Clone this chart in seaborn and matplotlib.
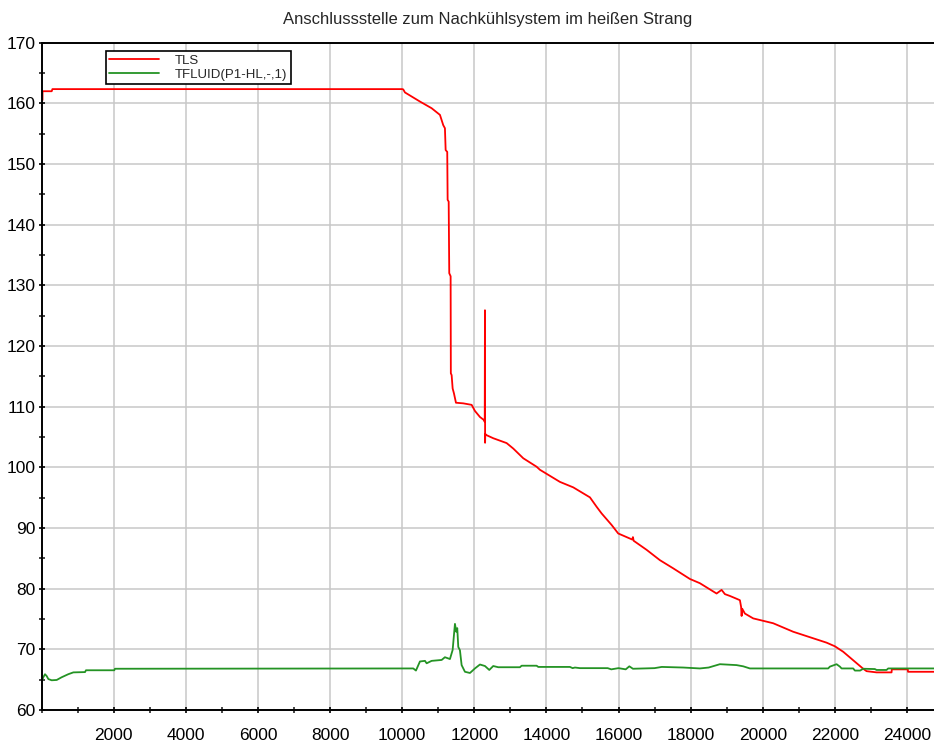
import matplotlib
matplotlib.use("Agg")
import matplotlib.pyplot as plt
from matplotlib.ticker import MultipleLocator
import seaborn as sns
import pandas as pd

title = "Anschlussstelle zum Nachkühlsystem im heißen Strang"
label_tls = "TLS"
label_tfluid = "TFLUID(P1-HL,-,1)"

red_x = [0, 25, 26, 280, 300, 10000, 10030, 10077, 10493, 10817,
         11048, 11140, 11186, 11206, 11250, 11261, 11290, 11306, 11344, 11350,
         11372, 11400, 11436, 11492, 11694, 11927, 12018, 12157, 12268, 12290,
         12296, 12300, 12305, 12342, 12526, 12897, 13081, 13358, 13729, 13820,
         14376, 14745, 15208, 15393, 15532, 15809, 15992, 16380, 16400, 16420,
         16780, 17148, 17518, 17980, 18257, 18720, 18859, 18951, 19090, 19250,
         19367, 19400, 19414, 19430, 19505, 19736, 20013, 20290, 20845, 21308,
         21771, 22002, 22232, 22509, 22786, 22880, 23157, 23573, 23580, 24023,
         24030, 24750]
red_y = [160.55, 160.55, 162.0, 162.0, 162.35, 162.35, 162.3, 161.8, 160.3, 159.2,
         158.1, 156.4, 155.9, 152.3, 152.0, 144.1, 143.8, 132.0, 131.5, 115.5,
         115.2, 113.0, 112.2, 110.65, 110.55, 110.3, 109.3, 108.3, 107.8, 107.5,
         125.9, 104.05, 105.5, 105.3, 104.8, 104.0, 103.1, 101.5, 100.1, 99.6,
         97.6, 96.7, 95.05, 93.5, 92.4, 90.5, 89.1, 88.1, 88.5, 87.9,
         86.4, 84.7, 83.35, 81.6, 80.9, 79.2, 79.8, 79.1, 78.8, 78.4,
         78.1, 77.0, 75.5, 76.7, 75.9, 75.1, 74.7, 74.3, 72.9, 72.0,
         71.1, 70.5, 69.6, 68.2, 66.8, 66.4, 66.2, 66.2, 66.7, 66.7,
         66.3, 66.3]

green_x = [0, 47, 94, 141, 187, 280, 419, 557, 740, 880,
           1204, 1231, 2016, 2035, 10308, 10382, 10493, 10632, 10679, 10817,
           11095, 11186, 11325, 11400, 11436, 11464, 11500, 11528, 11556, 11602,
           11649, 11741, 11880, 12018, 12157, 12296, 12416, 12526, 12665, 13266,
           13313, 13729, 13775, 14653, 14728, 14792, 14930, 15700, 15800, 16000,
           16200, 16300, 16400, 17000, 17200, 17800, 18257, 18500, 18812, 19275,
           19459, 19644, 21815, 21863, 22048, 22140, 22187, 22509, 22556, 22700,
           22786, 23110, 23157, 23434, 23480, 24750]
green_y = [64.65, 65.4, 65.9, 65.6, 65.1, 64.9, 64.95, 65.4, 65.9, 66.2,
           66.25, 66.55, 66.55, 66.8, 66.85, 66.5, 68.0, 68.1, 67.7, 68.1,
           68.25, 68.7, 68.4, 69.9, 72.35, 74.2, 72.9, 73.5, 70.4, 69.85,
           67.4, 66.3, 66.1, 66.85, 67.5, 67.25, 66.6, 67.25, 67.05, 67.05,
           67.3, 67.3, 67.1, 67.1, 66.9, 67.0, 66.9, 66.9, 66.7, 66.9,
           66.7, 67.2, 66.8, 66.9, 67.1, 67.0, 66.85, 67.0, 67.55, 67.4,
           67.2, 66.85, 66.85, 67.15, 67.55, 67.15, 66.85, 66.85, 66.5, 66.5,
           66.8, 66.75, 66.6, 66.6, 66.85, 66.85]

x_ticks = list(range(2000, 24001, 2000))
y_ticks = list(range(60, 171, 10))

sns.set_theme(style="white")
plt.rcParams['font.family'] = ['Liberation Sans', 'DejaVu Sans']

fig = plt.figure(figsize=(9.34, 7.45), dpi=100)
ax = fig.add_axes([41.6 / 934, 1 - 710 / 745, 1 - 41.6 / 934, (710 - 42.7) / 745])

df_red = pd.DataFrame({"t": red_x, "v": red_y})
df_green = pd.DataFrame({"t": green_x, "v": green_y})
sns.lineplot(data=df_red, x="t", y="v", ax=ax, color="#ff0000", linewidth=1.3,
             label=label_tls, errorbar=None, sort=False)
sns.lineplot(data=df_green, x="t", y="v", ax=ax, color="#249324", linewidth=1.3,
             label=label_tfluid, errorbar=None, sort=False)

ax.set_xlim(0, 24750)
ax.set_ylim(60, 170)
ax.set_xticks(x_ticks)
ax.set_yticks(y_ticks)
ax.xaxis.set_minor_locator(MultipleLocator(1000))
ax.yaxis.set_minor_locator(MultipleLocator(5))
ax.set_xlabel("")
ax.set_ylabel("")

ax.grid(True, which="major", color="#c8c8c8", linewidth=1.1)
ax.set_axisbelow(True)

for side in ["left", "bottom", "top"]:
    ax.spines[side].set_visible(True)
    ax.spines[side].set_color("black")
    ax.spines[side].set_linewidth(1.4)
ax.spines["right"].set_visible(False)

ax.tick_params(axis="y", which="major", direction="inout", length=4.5, width=1.2,
               labelsize=12.5, pad=2, left=True, colors="black")
ax.tick_params(axis="y", which="minor", direction="inout", length=4.5, width=1.2, left=True)
ax.tick_params(axis="x", which="major", direction="inout", length=4.5, width=1.2,
               labelsize=12.5, pad=11, bottom=True, colors="black")
ax.tick_params(axis="x", which="minor", direction="inout", length=4.5, width=1.2, bottom=True)

ax.set_title(title, fontsize=12, pad=13.5)

leg = ax.legend(loc="upper left", bbox_to_anchor=((105.7 - 41.6) / 892.4, (710 - 51) / 667.3),
                borderaxespad=0, fontsize=9.5, frameon=True, fancybox=False,
                edgecolor="black", framealpha=1, borderpad=0.25, labelspacing=0.15,
                handlelength=3.8, handletextpad=1.2)
leg.get_frame().set_linewidth(1.2)

fig.savefig("out.png", dpi=100)
